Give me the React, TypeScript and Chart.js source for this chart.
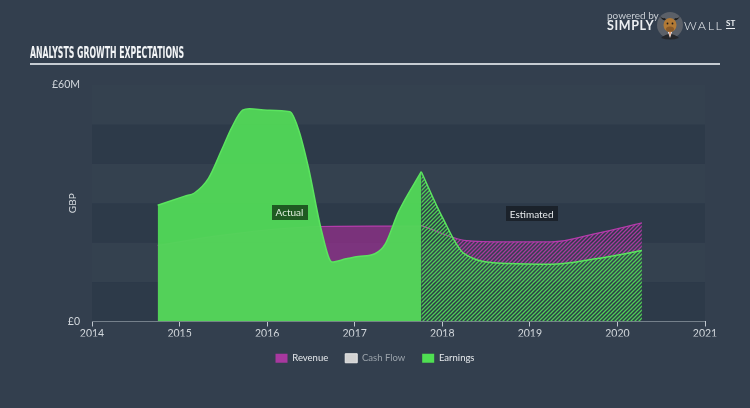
import React, { useEffect, useLayoutEffect, useRef } from 'react';
import { Chart, registerables } from 'chart.js';

Chart.register(...registerables);

// ---- data (values in £ millions, x in fractional years) ----
const actualYears = [2014.75, 2015.06, 2015.17, 2015.33, 2015.48, 2015.6, 2015.72, 2015.8, 2016.0, 2016.26, 2016.36, 2016.47, 2016.62, 2016.74, 2016.9, 2017.04, 2017.23, 2017.35, 2017.5, 2017.76];
const actualEarnings = [29.5, 31.8, 32.6, 36.3, 43.5, 49.4, 53.6, 54.0, 53.6, 53.2, 48.6, 39.2, 23.1, 15.1, 15.9, 16.5, 17.2, 19.7, 27.8, 38.0];
const revenueYears = [2014.75, 2015.33, 2015.71, 2016.08, 2016.6, 2017.2, 2017.76];
const actualRevenue = [19.3, 21.4, 22.5, 23.4, 24.1, 24.2, 24.2];
const estYears = [2017.76, 2018.0, 2018.25, 2018.75, 2019.25, 2019.75, 2020.28];
const estEarnings = [38.0, 26.5, 17.2, 14.7, 14.5, 15.9, 18.0];
const estRevenue = [24.4, 22.3, 20.6, 20.2, 20.2, 22.3, 25.0];
const xTicks = [2014, 2015, 2016, 2017, 2018, 2019, 2020, 2021];
const yTicks = [0, 60];
const yTickLabels = ['£0', '£60M'];
const legendNames = ['Revenue', 'Cash Flow', 'Earnings'];

const GREEN_LINE = '#5be45f';
const MAGENTA = '#a8389f';
const TEXT = '#d3d8dd';

function hatch(color: string): CanvasPattern {
  const c = document.createElement('canvas');
  c.width = 4;
  c.height = 4;
  const g = c.getContext('2d')!;
  g.strokeStyle = color;
  g.lineWidth = 1.3;
  g.beginPath();
  g.moveTo(0, 4); g.lineTo(4, 0);
  g.moveTo(-1, 1); g.lineTo(1, -1);
  g.moveTo(3, 5); g.lineTo(5, 3);
  g.stroke();
  return g.createPattern(c, 'repeat')!;
}

const pts = (xs: number[], ys: number[]) => xs.map((x, i) => ({ x, y: ys[i] }));

const bandsPlugin = {
  id: 'bands',
  beforeDatasetsDraw(chart: any) {
    const { ctx, chartArea, scales } = chart;
    const y = scales.y;
    ctx.save();
    for (let v = 0; v < 60; v += 10) {
      const top = y.getPixelForValue(v + 10);
      const bot = y.getPixelForValue(v);
      ctx.fillStyle = (v / 10) % 2 === 0 ? '#2d3a49' : '#34414f';
      ctx.fillRect(chartArea.left, top, chartArea.right - chartArea.left, bot - top);
    }
    ctx.restore();
  },
  afterDatasetsDraw(chart: any) {
    const { ctx, chartArea, scales } = chart;
    const x = scales.x;
    const y = scales.y;
    ctx.save();
    // GBP axis label
    ctx.translate(73, (chartArea.top + chartArea.bottom) / 2);
    ctx.rotate(-Math.PI / 2);
    ctx.font = '10px Lato';
    ctx.fillStyle = TEXT;
    ctx.textAlign = 'center';
    ctx.textBaseline = 'middle';
    ctx.fillText('GBP', 0, 0);
    ctx.restore();

    const box = (text: string, xv: number, yv: number, bg: string, fg: string) => {
      ctx.save();
      ctx.font = '10px Lato';
      const w = ctx.measureText(text).width + 8;
      const h = 15;
      const cx = x.getPixelForValue(xv);
      const cy = y.getPixelForValue(yv);
      ctx.fillStyle = bg;
      ctx.fillRect(Math.round(cx - w / 2), Math.round(cy - h / 2), Math.round(w), h);
      ctx.fillStyle = fg;
      ctx.textAlign = 'center';
      ctx.textBaseline = 'middle';
      ctx.fillText(text, cx, cy + 0.5);
      ctx.restore();
    };
    box('Actual', (actualYears[0] + actualYears[actualYears.length - 1]) / 2, 27.6, '#1f5a22', '#dfeedd');
    box('Estimated', (estYears[0] + estYears[estYears.length - 1]) / 2, 27.3, '#1b222b', '#e6e9ec');
  },
};

function ChartView() {
  const ref = useRef<HTMLCanvasElement>(null);
  useEffect(() => {
    if (!ref.current) return;
    Chart.defaults.font.family = 'Lato';
    const greenHatch = hatch('#4fcf55');
    const magentaHatch = hatch('#a8389f');
    const chart = new Chart(ref.current, {
      type: 'line',
      data: {
        datasets: [
          {
            label: 'Earnings',
            data: pts(actualYears, actualEarnings),
            borderColor: GREEN_LINE,
            backgroundColor: 'rgba(81,215,87,0.96)',
            borderWidth: 1.5,
            fill: 'origin',
            pointRadius: 0,
            cubicInterpolationMode: 'monotone',
          },
          {
            label: 'Earnings est',
            data: pts(estYears, estEarnings),
            borderColor: GREEN_LINE,
            backgroundColor: greenHatch,
            borderWidth: 1.5,
            fill: 'origin',
            pointRadius: 0,
            cubicInterpolationMode: 'monotone',
          },
          {
            label: 'Revenue',
            data: pts(revenueYears, actualRevenue),
            borderColor: '#b43cab',
            backgroundColor: 'rgba(170,45,155,0.62)',
            borderWidth: 1.2,
            fill: 'origin',
            pointRadius: 0,
            cubicInterpolationMode: 'monotone',
          },
          {
            label: 'Revenue est',
            data: pts(estYears, estRevenue),
            borderColor: '#b43cab',
            borderWidth: 1.2,
            fill: { target: 1, above: magentaHatch, below: 'rgba(0,0,0,0)' },
            pointRadius: 0,
            cubicInterpolationMode: 'monotone',
          },
        ],
      } as any,
      options: {
        animation: false,
        responsive: false,
        maintainAspectRatio: false,
        layout: { padding: { top: 85, right: 0, left: 0, bottom: 35 } },
        plugins: {
          tooltip: { enabled: false },
          legend: {
            position: 'bottom',
            onClick: () => {},
            labels: {
              boxWidth: 12,
              boxHeight: 9,
              padding: 17,
              font: { size: 9.5, family: 'Lato' },
              generateLabels: () => [
                { text: legendNames[0], fillStyle: MAGENTA, strokeStyle: MAGENTA, lineWidth: 0, fontColor: '#e6e9ec', hidden: false, datasetIndex: 2 },
                { text: legendNames[1], fillStyle: '#d2d2d2', strokeStyle: '#e8e8e8', lineWidth: 1, fontColor: '#9ba3ab', hidden: false },
                { text: legendNames[2], fillStyle: '#4fdf52', strokeStyle: '#4fdf52', lineWidth: 0, fontColor: '#e6e9ec', hidden: false, datasetIndex: 0 },
              ] as any,
            },
          },
        },
        scales: {
          x: {
            type: 'linear',
            min: xTicks[0],
            max: xTicks[xTicks.length - 1],
            afterBuildTicks: (s: any) => { s.ticks = xTicks.map((v) => ({ value: v })); },
            afterFit: (s: any) => { s.height = 15; },
            grid: { display: true, drawOnChartArea: false, drawTicks: true, tickLength: 5, color: '#bfc6ce' },
            border: { display: true, color: '#bfc6ce', width: 1 },
            ticks: { color: TEXT, font: { size: 10.5 }, padding: 1, maxRotation: 0, callback: (v: any) => String(v) },
          },
          y: {
            type: 'linear',
            min: 0,
            max: 60,
            afterBuildTicks: (s: any) => { s.ticks = yTicks.map((v) => ({ value: v })); },
            afterFit: (s: any) => { s.width = 92; },
            grid: { display: false, drawTicks: false },
            border: { display: false },
            ticks: {
              color: TEXT,
              font: { size: 10.5 },
              padding: 12,
              callback: (v: any) => yTickLabels[yTicks.indexOf(Number(v))] ?? '',
            },
          },
          yRight: {
            type: 'linear',
            position: 'right',
            min: 0,
            max: 60,
            afterFit: (s: any) => { s.width = 45; },
            grid: { display: false, drawTicks: false },
            border: { display: false },
            ticks: { display: false },
          },
        },
      } as any,
      plugins: [bandsPlugin],
    });
    return () => chart.destroy();
  }, []);
  return <canvas ref={ref} width={750} height={408} style={{ position: 'absolute', left: 0, top: 0, width: 750, height: 408 }} />;
}

function Bull() {
  return (
    <svg width={30} height={30} viewBox="0 0 30 30" style={{ position: 'absolute', left: 655, top: 10 }}>
      <circle cx={15} cy={15} r={13} fill="#5b6068" />
      <path d="M5 6 Q7 11 11 10 L10 8 Q7 9 5 6Z" fill="#1e1e1e" />
      <path d="M25 6 Q23 11 19 10 L20 8 Q23 9 25 6Z" fill="#1e1e1e" />
      <path d="M6 28 Q15 20 24 28 Q15 31 6 28Z" fill="#25272b" />
      <path d="M13 22 L15 28 L17 22Z" fill="#f1f1f1" />
      <path d="M14.3 22 L15 27 L15.7 22Z" fill="#e0662a" />
      <ellipse cx={15} cy={15} rx={6.5} ry={7} fill="#b27a36" />
      <ellipse cx={15} cy={19} rx={4} ry={2.6} fill="#8a5a28" />
      <circle cx={12.5} cy={13.5} r={0.9} fill="#1b1b1b" />
      <circle cx={17.5} cy={13.5} r={0.9} fill="#1b1b1b" />
    </svg>
  );
}

function Title() {
  const ref = useRef<HTMLDivElement>(null);
  useLayoutEffect(() => {
    const el = ref.current;
    if (!el) return;
    const w = el.offsetWidth;
    if (w > 0) el.style.transform = `scaleX(${154 / w})`;
  }, []);
  return (
    <div
      ref={ref}
      style={{
        position: 'absolute', left: 30, top: 46, fontFamily: '"Liberation Sans Narrow", "DejaVu Sans Condensed", sans-serif',
        fontWeight: 700, fontSize: 15, lineHeight: '15px', color: '#f2f4f6', whiteSpace: 'nowrap',
        transformOrigin: 'left top', display: 'inline-block',
      }}
    >
      ANALYSTS GROWTH EXPECTATIONS
    </div>
  );
}

export default function App() {
  return (
    <div style={{ position: 'absolute', left: 0, top: 0, width: 750, height: 408, background: '#333f4e', overflow: 'hidden', fontFamily: 'Lato, sans-serif' }}>
      <ChartView />
      <Title />
      <div style={{ position: 'absolute', left: 30, top: 63, width: 690, height: 2, background: '#c6ccd2' }} />
      <div style={{ position: 'absolute', left: 607, top: 10, fontSize: 10, lineHeight: '10px', color: '#c9ced4', whiteSpace: 'nowrap' }}>powered by</div>
      <div style={{ position: 'absolute', left: 607, top: 19, fontSize: 12.5, lineHeight: '13px', fontWeight: 700, letterSpacing: 0.6, color: '#eceff2', whiteSpace: 'nowrap' }}>SIMPLY</div>
      <Bull />
      <div style={{ position: 'absolute', left: 684, top: 19, fontSize: 12.5, lineHeight: '13px', fontWeight: 300, letterSpacing: 1.6, color: '#eceff2', whiteSpace: 'nowrap' }}>WALL</div>
      <div style={{ position: 'absolute', left: 726, top: 19, fontSize: 8, lineHeight: '8px', fontWeight: 700, color: '#eceff2', borderBottom: '1.5px solid #eceff2', paddingBottom: 1, whiteSpace: 'nowrap' }}>ST</div>
    </div>
  );
}
